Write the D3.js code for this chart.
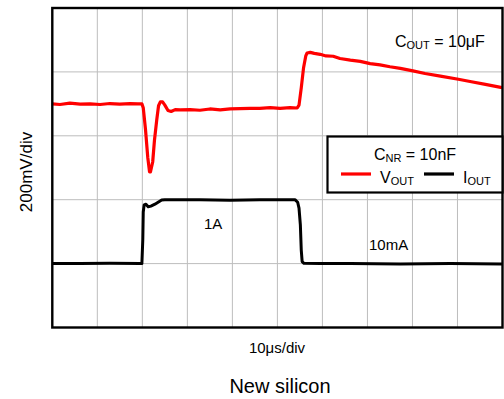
<!DOCTYPE html>
<html>
<head>
<meta charset="utf-8">
<script src="https://cdn.jsdelivr.net/npm/d3@7/dist/d3.min.js"></script>
<style>
  html, body { margin: 0; padding: 0; background: #fff; }
  svg { display: block; }
  text { font-family: "Liberation Sans", Arial, sans-serif; fill: #000; }
</style>
</head>
<body>
<svg id="chart" width="504" height="399"></svg>
<script>
// ---- Data (time in µs, 10 µs/div; Vout deviation in mV, 200 mV/div; Iout in A) ----
const timeDivs = [0, 10, 20, 30, 40, 50, 60, 70, 80, 90, 100];
const ampDivs = [0, 1, 2, 3, 4, 5];

const voutTime = [0, 1.7, 3.9, 6.2, 8.4, 10.6, 12.8, 15.0, 17.3, 19.0, 19.9, 20.2, 20.7, 21.2, 21.6, 21.8,
  22.3, 22.7, 23.2, 23.6, 24.0, 24.5, 25.0, 25.7, 26.4, 27.3, 28.4, 30.6, 32.8, 35.0, 37.3, 39.5, 41.7,
  43.9, 46.1, 48.4, 50.6, 52.8, 54.4, 54.8, 55.3, 55.8, 56.3, 56.6, 57.3, 58.2, 59.5, 60.8, 62.4, 63.9,
  66.2, 68.4, 70.6, 72.8, 75.0, 77.3, 80.1, 82.8, 86.2, 90.2, 92.8, 96.2, 99.9];
const voutMv = [0, -2, 2, -1, 0, -2, 1, -1, 1, 0, 0, -12, -80, -167, -213, -213,
  -182, -113, -50, -6, 6, 6, -4, -21, -24, -18, -19, -18, -20, -16, -19, -16, -15,
  -14, -14, -12, -14, -12, -13, -4, 50, 112, 150, 159, 161, 158, 155, 150, 149, 142,
  137, 133, 126, 122, 116, 111, 103, 95, 87, 77, 70, 61, 51];

const ioutTime = [0, 6.2, 12.8, 19.5, 19.9, 20.1, 20.2, 20.4, 20.8, 21.3, 21.9, 22.8, 23.5, 24.3, 25.0,
  32.8, 39.5, 46.1, 52.8, 53.9, 54.5, 54.8, 55.1, 55.3, 55.5, 55.9, 59.5, 66.2, 77.3, 88.4, 99.9];
const ioutA = [0.01, 0.01, 0.015, 0.01, 0.01, 0.38, 0.81, 0.92, 0.93, 0.89, 0.90, 0.93, 0.96, 0.995, 1.0,
  1.0, 0.99, 1.0, 1.0, 1.0, 0.96, 0.87, 0.61, 0.22, 0.04, 0.015, 0.01, 0.01, 0.005, 0.01, 0.005];

const voutBaseDiv = 3.5;   // Vout nominal level sits 3.5 div above bottom
const iLowDiv = 1, iHighDiv = 2; // 10 mA at 1 div, 1 A at 2 div

// ---- Layout ----
const svg = d3.select("#chart");
const L = 52.3, R = 502.5, T = 8, B = 327.5;

const x = d3.scaleLinear().domain([0, 100]).range([L, R]);
const yDiv = d3.scaleLinear().domain([0, 5]).range([B, T]);
const yV = d3.scaleLinear()
  .domain([-voutBaseDiv * 200, (5 - voutBaseDiv) * 200])
  .range([B, T]);
const yI = d3.scaleLinear().domain([0.01, 1]).range([yDiv(iLowDiv), yDiv(iHighDiv)]);

// grid
const grid = svg.append("g");
grid.selectAll("line.v").data(timeDivs.slice(1, -1)).enter().append("line")
  .attr("x1", d => x(d)).attr("x2", d => x(d)).attr("y1", T).attr("y2", B)
  .attr("stroke", "#bdbdbd").attr("stroke-width", 1);
grid.selectAll("line.h").data(ampDivs.slice(1, -1)).enter().append("line")
  .attr("x1", L).attr("x2", R).attr("y1", d => yDiv(d)).attr("y2", d => yDiv(d))
  .attr("stroke", "#bdbdbd").attr("stroke-width", 1);

// traces
const vData = voutTime.map((t, i) => [t, voutMv[i]]);
const iData = ioutTime.map((t, i) => [t, ioutA[i]]);

svg.append("path").datum(iData)
  .attr("fill", "none").attr("stroke", "#000").attr("stroke-width", 3)
  .attr("stroke-linejoin", "round")
  .attr("d", d3.line().x(d => x(d[0])).y(d => yI(d[1])));

svg.append("path").datum(vData)
  .attr("fill", "none").attr("stroke", "#ff0000").attr("stroke-width", 3.2)
  .attr("stroke-linejoin", "round")
  .attr("d", d3.line().x(d => x(d[0])).y(d => yV(d[1])));

// frame
svg.append("rect").attr("x", L).attr("y", T).attr("width", R - L).attr("height", B - T)
  .attr("fill", "none").attr("stroke", "#000").attr("stroke-width", 2.4);

// legend box
const lg = svg.append("g");
lg.append("rect").attr("x", 327.5).attr("y", 136.5).attr("width", R - 327.5).attr("height", 56)
  .attr("fill", "#fff").attr("stroke", "#000").attr("stroke-width", 2.2);
const cnr = lg.append("text").attr("x", 415).attr("y", 160).attr("text-anchor", "middle")
  .attr("font-size", 16);
cnr.append("tspan").text("C");
cnr.append("tspan").attr("font-size", 11).attr("dy", 2).text("NR");
cnr.append("tspan").attr("dy", -2).text(" = 10nF");

lg.append("line").attr("x1", 341).attr("x2", 371).attr("y1", 174).attr("y2", 174)
  .attr("stroke", "#ff0000").attr("stroke-width", 3.2);
const vt = lg.append("text").attr("x", 380).attr("y", 183).attr("font-size", 16);
vt.append("tspan").text("V");
vt.append("tspan").attr("font-size", 11).attr("dy", 2).text("OUT");

lg.append("line").attr("x1", 424).attr("x2", 454).attr("y1", 174).attr("y2", 174)
  .attr("stroke", "#000").attr("stroke-width", 3.2);
const it = lg.append("text").attr("x", 463).attr("y", 183).attr("font-size", 16);
it.append("tspan").text("I");
it.append("tspan").attr("font-size", 11).attr("dy", 2).text("OUT");

// annotations
const cout = svg.append("text").attr("x", 395).attr("y", 46.5).attr("font-size", 16);
cout.append("tspan").text("C");
cout.append("tspan").attr("font-size", 11).attr("dy", 2).text("OUT");
cout.append("tspan").attr("dy", -2).text(" = 10μF");

svg.append("text").attr("x", 204).attr("y", 228.5).attr("font-size", 15).text("1A");
svg.append("text").attr("x", 369).attr("y", 250).attr("font-size", 15).text("10mA");

svg.append("text").attr("x", 277).attr("y", 353).attr("text-anchor", "middle")
  .attr("font-size", 15).text("10μs/div");
svg.append("text").attr("transform", "translate(32,172) rotate(-90)")
  .attr("text-anchor", "middle").attr("font-size", 17).text("200mV/div");
svg.append("text").attr("x", 280).attr("y", 393).attr("text-anchor", "middle")
  .attr("font-size", 20).text("New silicon");
</script>
</body>
</html>
